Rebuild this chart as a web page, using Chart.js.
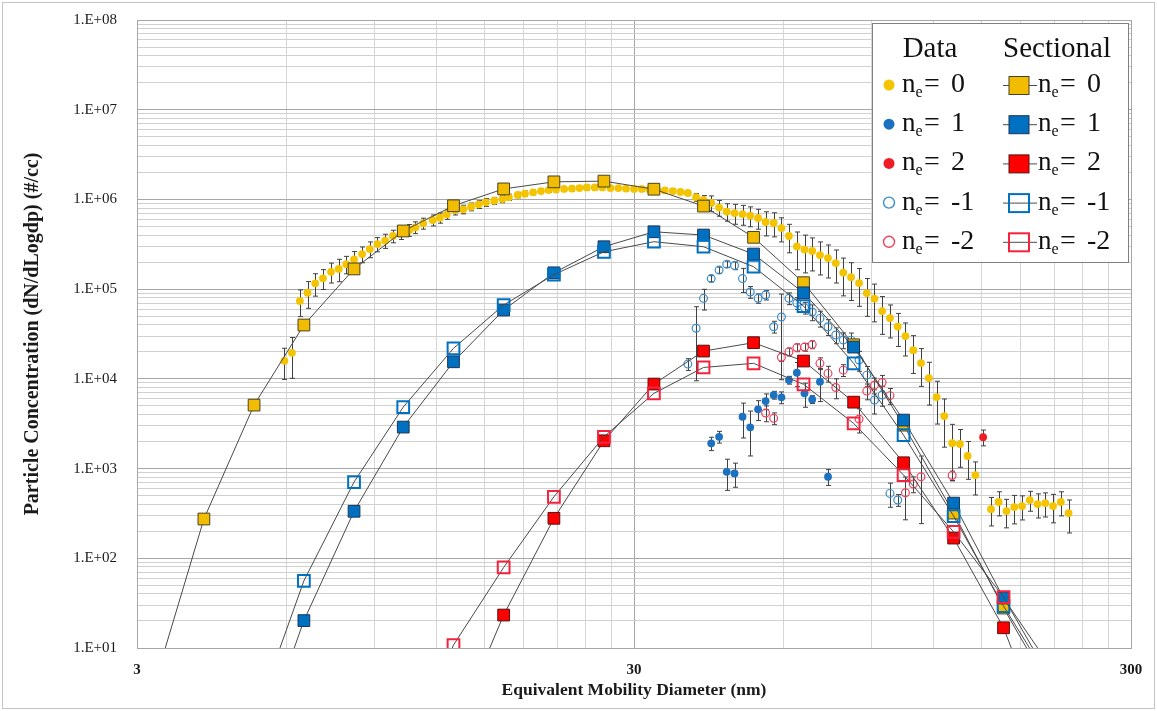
<!DOCTYPE html>
<html>
<head>
<meta charset="utf-8">
<script src="https://cdn.jsdelivr.net/npm/chart.js@4.4.1/dist/chart.umd.min.js"></script>
<style>
  body { margin: 0; background: #fff; }
  #graph { display: block; }
</style>
</head>
<body>
<canvas id="graph" width="1157" height="711"></canvas>
<script>
// SMPS channel midpoints (nm), 64 channels per decade
const channelDiameters = [5.94, 6.15, 6.38, 6.61, 6.85, 7.10, 7.37, 7.64, 7.91, 8.20, 8.51, 8.82, 9.14, 9.47, 9.82,
  10.2, 10.6, 10.9, 11.3, 11.8, 12.2, 12.6, 13.1, 13.6, 14.1, 14.6, 15.1, 15.7, 16.3, 16.8, 17.5, 18.1, 18.8, 19.5,
  20.2, 20.9, 21.7, 22.5, 23.3, 24.1, 25.0, 25.9, 26.9, 27.9, 28.9, 30.0, 31.1, 32.2, 33.4, 34.6, 35.9, 37.2, 38.5,
  40.0, 41.4, 42.9, 44.5, 46.1, 47.8, 49.6, 51.4, 53.3, 55.2, 57.3, 59.4, 61.5, 63.8, 66.1, 68.5, 71.0, 73.7, 76.4,
  79.1, 82.0, 85.1, 88.2, 91.4, 94.7, 98.2, 101.8, 105.5, 109.4, 113.4, 117.6, 121.9, 126.3, 131.0, 135.8, 140.7,
  145.9, 151.2, 156.8, 162.5, 168.5, 174.7, 181.1, 187.7, 194.6, 201.7, 209.1, 216.7, 224.7];

// measured, neutral (ne = 0), one value per channel
const ne0Conc = [15900, 19500, 73700, 91200, 116000, 132000, 156000, 168000, 190000, 215000,
  246000, 280000, 318000, 347000, 391000, 426000, 456000, 489000, 542000, 589000,
  625000, 682000, 762000, 776000, 829000, 881000, 929000, 967000, 1010000, 1060000,
  1120000, 1160000, 1200000, 1240000, 1270000, 1290000, 1310000, 1320000, 1340000, 1360000,
  1360000, 1360000, 1340000, 1340000, 1320000, 1310000, 1310000, 1290000, 1270000, 1260000,
  1240000, 1210000, 1180000, 1060000, 985000, 912000, 812000, 733000, 705000, 687000,
  661000, 621000, 560000, 546000, 480000, 391000, 299000, 276000, 266000, 240000,
  222000, 195000, 153000, 136000, 117000, 90500, 78500, 57000, 47600, 38300,
  30000, 20900, 15000, 10200, 6270, 3850, 1920, 1880, 1380, 847,
  null, 353, 424, 336, 372, 382, 446, 402, 412, 382, 424, 319];
// relative error (fraction of value)
const ne0Err = [0.38, 0.48, 0.33, 0.33, 0.28, 0.25, 0.25, 0.28, 0.22, 0.22,
  0.2, 0.2, 0.18, 0.18, 0.16, 0.16, 0.15, 0.15, 0.14, 0.14,
  0.13, 0.12, 0.12, 0.11, 0.1, 0.1, 0.1, 0.09, 0.09, 0.08,
  0.07, 0.07, 0.06, 0.06, 0.06, 0.06, 0.06, 0.06, 0.06, 0.06,
  0.06, 0.06, 0.06, 0.06, 0.06, 0.06, 0.06, 0.06, 0.06, 0.06,
  0.06, 0.06, 0.06, 0.1, 0.12, 0.2, 0.2, 0.22, 0.25, 0.25,
  0.25, 0.25, 0.3, 0.3, 0.3, 0.35, 0.45, 0.45, 0.4, 0.4,
  0.4, 0.4, 0.45, 0.45, 0.45, 0.45, 0.45, 0.45, 0.4, 0.4,
  0.4, 0.45, 0.45, 0.5, 0.5, 0.55, 0.62, 0.45, 0.45, 0.4,
  null, 0.35, 0.3, 0.35, 0.35, 0.3, 0.25, 0.3, 0.3, 0.35, 0.3, 0.4];

// measured, singly positive (ne = 1)
const ne1Diam = [42.9, 44.5, 46.1, 47.8, 49.6, 51.4, 53.3, 55.2, 57.3, 59.4, 61.5, 63.8, 66.1, 68.5, 71.0, 73.7];
const ne1Conc = [1910, 2260, 921, 884, 3780, 2880, 4570, 5660, 6600, 6220, 9700, 11700, 6890, 5900, 9300, 811];
const ne1Err = [0.17, 0.15, 0.38, 0.3, 0.42, 0.52, 0.25, 0.2, 0.1, 0.15, 0.1, 0.3, 0.3, 0.1, 0.4, 0.2];

// measured, doubly positive (ne = 2)
const ne2Diam = [151.2];
const ne2Conc = [2240];
const ne2Err = [0.2];

// measured, singly negative (ne = -1)
const neM1Diam = [38.5, 40.0, 41.4, 42.9, 44.5, 46.1, 47.8, 49.6, 51.4, 53.3, 55.2, 57.3, 59.4, 61.5,
  63.8, 66.1, 68.5, 71.0, 73.7, 76.4, 79.1, 82.0, 85.1, 88.2, 91.4, 94.7, 98.2, 101.8];
const neM1Conc = [14600, 36600, 79000, 131000, 163000, 190000, 183000, 131000, 93000, 79000, 86000, 38100, 48900, 79000,
  70000, 62000, 55600, 47200, 38100, 30800, 27100, 27000, 16200, 11000, 5800, 6600, 529, 446];
const neM1Err = [0.15, 0.74, 0.26, 0.08, 0.08, 0.08, 0.1, 0.3, 0.15, 0.12, 0.12, 0.15, 0.8, 0.15,
  0.15, 0.15, 0.2, 0.2, 0.2, 0.2, 0.2, 0.2, 0.25, 0.25, 0.3, 0.25, 0.3, 0.15];

// measured, doubly negative (ne = -2)
const neM2Diam = [55.2, 57.3, 59.4, 61.5, 63.8, 66.1, 68.5, 71.0, 73.7, 76.4, 79.1, 85.1, 88.2, 91.4, 94.7, 98.2,
  105.5, 109.4, 113.4, 131.0];
const neM2Conc = [4160, 3630, 17400, 20000, 22300, 22600, 24100, 14900, 11500, 8000, 12500, 3560, 7300, 8500, 9100, 6500,
  537, 672, 811, 836];
const neM2Err = [0.2, 0.15, 0.1, 0.1, 0.1, 0.1, 0.1, 0.15, 0.2, 0.25, 0.15, 0.3, 0.2, 0.2, 0.2, 0.2,
  0.5, 0.2, 0.7, 0.12];

// sectional model, section centres (nm)
const sectionalDiameters = [3.25, 4.09, 5.16, 6.50, 8.20, 10.3, 13.0, 16.4, 20.7, 26.1, 32.9, 41.4, 52.2, 65.8,
  83.0, 104.6, 131.9, 166.2, 209.6];
const sect0 = [3.9, 274, 5100, 39800, 168000, 445000, 850000, 1310000, 1570000, 1600000, 1300000, 843000, 378000, 118000,
  24000, 3050, 319, 27.9, 3.0];
const sect1 = [null, null, 0.54, 20.2, 334, 2900, 15500, 58500, 152000, 297000, 436000, 401000, 246000, 91000,
  22600, 3470, 412, 36, 5.5];
const sect2 = [null, null, null, null, null, null, 1.1, 23.3, 279, 2040, 8750, 20400, 25300, 15800,
  5500, 1160, 168, 16.8, 0.6];
const sectM1 = [null, null, 1.55, 56, 708, 4850, 21900, 66500, 145000, 261000, 338000, 297000, 178000, 64800,
  14900, 2360, 295, 29.3, 3.7];
const sectM2 = [null, null, null, null, null, 0.43, 10.8, 79, 485, 2260, 6890, 13400, 14900, 8700,
  3190, 847, 197, 36.9, 3.9];

// axes
const xMajorTicks = [3, 30, 300];
const xTickLabels = ['3', '30', '300'];
const yMajorTicks = [1e1, 1e2, 1e3, 1e4, 1e5, 1e6, 1e7, 1e8];
const yTickLabels = ['1.E+01', '1.E+02', '1.E+03', '1.E+04', '1.E+05', '1.E+06', '1.E+07', '1.E+08'];
const legendKeys = ['0', '1', '2', '-1', '-2'];

const serif = "'Liberation Serif', 'Times New Roman', serif";
const YELLOW = '#F5C400';
const BLUE = '#0070C0';
const RED = '#FF0000';
const PINK = '#F0405E';

function toPoints(xs, ys, errs) {
  const pts = [];
  xs.forEach((x, i) => {
    if (ys[i] == null) return;
    pts.push({ x: x, y: ys[i], err: errs ? errs[i] : null });
  });
  return pts;
}

// Excel style log gridlines: k * base for k = 1..9
const xGrid = [];
xMajorTicks.slice(0, -1).forEach(b => { for (let k = 1; k < 10; k++) xGrid.push(b * k); });
xGrid.push(xMajorTicks[xMajorTicks.length - 1]);
const yGrid = [];
yMajorTicks.slice(0, -1).forEach(b => { for (let k = 1; k < 10; k++) yGrid.push(b * k); });
yGrid.push(yMajorTicks[yMajorTicks.length - 1]);

function dataSet(label, xs, ys, errs, fill, stroke, order) {
  return {
    label: label,
    data: toPoints(xs, ys, errs),
    showLine: false,
    pointStyle: 'circle',
    pointRadius: 3.9,
    pointBackgroundColor: fill,
    pointBorderColor: stroke || fill,
    pointBorderWidth: stroke ? 1.2 : 0,
    order: order
  };
}

function sectSet(label, ys, fill, stroke, bw, order) {
  return {
    label: label,
    data: toPoints(sectionalDiameters, ys),
    showLine: true,
    borderColor: '#4a4a4a',
    borderWidth: 1,
    pointStyle: 'rect',
    pointRadius: 8.3,
    pointBackgroundColor: fill,
    pointBorderColor: stroke,
    pointBorderWidth: bw,
    order: order
  };
}

const dataSets = [
  dataSet('Data ne=0', channelDiameters, ne0Conc, ne0Err, YELLOW, null, 10),
  dataSet('Data ne=1', ne1Diam, ne1Conc, ne1Err, '#1C72C0', null, 9),
  dataSet('Data ne=2', ne2Diam, ne2Conc, ne2Err, '#EE1C25', null, 8),
  dataSet('Data ne=-1', neM1Diam, neM1Conc, neM1Err, 'rgba(0,0,0,0)', '#3A8CCB', 7),
  dataSet('Data ne=-2', neM2Diam, neM2Conc, neM2Err, 'rgba(0,0,0,0)', PINK, 6)
];
const sectSets = [
  sectSet('Sectional ne=0', sect0, '#F2BC00', '#4a4022', 1, 5),
  sectSet('Sectional ne=1', sect1, BLUE, '#1d3557', 1, 4),
  sectSet('Sectional ne=2', sect2, RED, '#5a1010', 1, 3),
  sectSet('Sectional ne=-1', sectM1, 'rgba(0,0,0,0)', BLUE, 2, 2),
  sectSet('Sectional ne=-2', sectM2, 'rgba(0,0,0,0)', '#F5223F', 2, 1)
];

const pageFrame = {
  id: 'pageFrame',
  beforeDraw(chart) {
    const ctx = chart.ctx;
    ctx.save();
    ctx.fillStyle = '#fff';
    ctx.fillRect(0, 0, chart.width, chart.height);
    ctx.strokeStyle = '#c4c4c4';
    ctx.lineWidth = 1;
    ctx.strokeRect(2.5, 2.5, chart.width - 5, chart.height - 5);
    ctx.restore();
  }
};

const errorBars = {
  id: 'errorBars',
  beforeDatasetsDraw(chart) {
    const { ctx, chartArea, scales } = chart;
    ctx.save();
    ctx.beginPath();
    ctx.rect(chartArea.left, chartArea.top, chartArea.width, chartArea.height);
    ctx.clip();
    ctx.strokeStyle = '#404040';
    ctx.lineWidth = 1;
    chart.data.datasets.forEach(ds => {
      ds.data.forEach(p => {
        if (!p.err) return;
        const px = Math.round(scales.x.getPixelForValue(p.x)) + 0.5;
        const top = scales.y.getPixelForValue(p.y * (1 + p.err));
        const bot = scales.y.getPixelForValue(p.y * (1 - p.err));
        ctx.beginPath();
        ctx.moveTo(px, top); ctx.lineTo(px, bot);
        ctx.moveTo(px - 2.5, top); ctx.lineTo(px + 2.5, top);
        ctx.moveTo(px - 2.5, bot); ctx.lineTo(px + 2.5, bot);
        ctx.stroke();
      });
    });
    ctx.restore();
  }
};

// "n" with subscript "e", then "= key"
function drawNe(ctx, x, baseline, key) {
  ctx.textAlign = 'left';
  ctx.font = '27px ' + serif;
  ctx.fillText('n', x, baseline);
  ctx.font = '16px ' + serif;
  ctx.fillText('e', x + 13.5, baseline + 5);
  ctx.font = '28px ' + serif;
  ctx.fillText('=', x + 22, baseline);
  ctx.fillText(key, x + 49, baseline);
}

// two column legend: Data | Sectional
const pairedLegend = {
  id: 'pairedLegend',
  afterDraw(chart) {
    const ctx = chart.ctx;
    const box = { left: 872.5, top: 23.5, width: 256, height: 239 };
    ctx.save();
    ctx.fillStyle = '#fff';
    ctx.fillRect(box.left, box.top, box.width, box.height);
    ctx.strokeStyle = '#808080';
    ctx.lineWidth = 1;
    ctx.strokeRect(box.left, box.top, box.width, box.height);

    ctx.fillStyle = '#111';
    ctx.textBaseline = 'alphabetic';
    ctx.textAlign = 'center';
    ctx.font = '29px ' + serif;
    ctx.fillText('Data', 930, 57);
    ctx.fillText('Sectional', 1057, 57);

    legendKeys.forEach((key, i) => {
      const cy = 85 + i * 39.2;
      const d = dataSets[i];
      const s = sectSets[i];
      // data marker
      ctx.beginPath();
      ctx.arc(889, cy, 5.5, 0, Math.PI * 2);
      ctx.fillStyle = d.pointBackgroundColor;
      ctx.fill();
      if (d.pointBorderWidth) {
        ctx.lineWidth = 1.4;
        ctx.strokeStyle = d.pointBorderColor;
        ctx.stroke();
      }
      // sectional marker with line stub
      ctx.beginPath();
      ctx.moveTo(1003, cy + 0.5);
      ctx.lineTo(1037, cy + 0.5);
      ctx.lineWidth = 1;
      ctx.strokeStyle = '#4a4a4a';
      ctx.stroke();
      ctx.fillStyle = s.pointBackgroundColor;
      ctx.fillRect(1009, cy - 8.5, 20, 18);
      ctx.lineWidth = s.pointBorderWidth;
      ctx.strokeStyle = s.pointBorderColor;
      ctx.strokeRect(1009, cy - 8.5, 20, 18);

      ctx.fillStyle = '#111';
      drawNe(ctx, 902, cy + 7, key);
      drawNe(ctx, 1038, cy + 7, key);
    });
    ctx.restore();
  }
};

function gridColor(majors, major, minor) {
  return ctx => (ctx.tick && majors.includes(ctx.tick.value)) ? major : minor;
}

new Chart(document.getElementById('graph'), {
  type: 'scatter',
  data: { datasets: dataSets.concat(sectSets) },
  options: {
    responsive: false,
    animation: false,
    devicePixelRatio: 1,
    layout: { padding: { left: 0, right: 26, top: 20, bottom: 0 } },
    plugins: { legend: { display: false }, tooltip: { enabled: false } },
    scales: {
      x: {
        type: 'logarithmic',
        min: 3,
        max: 300,
        afterBuildTicks: scale => { scale.ticks = xGrid.map(v => ({ value: v })); },
        afterFit: scale => { scale.height = 63; },
        grid: {
          color: gridColor(xMajorTicks, '#a6a6a6', '#d6d6d6'),
          drawTicks: false
        },
        border: { color: '#a6a6a6' },
        ticks: {
          autoSkip: false,
          maxRotation: 0,
          padding: 13,
          color: '#1a1a1a',
          font: { family: serif, size: 15, weight: 'bold' },
          callback: v => {
            const i = xMajorTicks.indexOf(v);
            return i >= 0 ? xTickLabels[i] : '';
          }
        },
        title: {
          display: true,
          text: 'Equivalent Mobility Diameter (nm)',
          color: '#1a1a1a',
          font: { family: serif, size: 17.5, weight: 'bold' },
          padding: { top: 0, bottom: 10.5 }
        }
      },
      y: {
        type: 'logarithmic',
        min: 10,
        max: 1e8,
        afterBuildTicks: scale => { scale.ticks = yGrid.map(v => ({ value: v })); },
        afterFit: scale => {
          scale.width = 137;
          // the label gap would otherwise push the plot area down
          scale.paddingTop = 0;
          scale.paddingBottom = 0;
        },
        grid: {
          color: gridColor(yMajorTicks, '#a6a6a6', '#d0d0d0'),
          drawTicks: false
        },
        border: { color: '#a6a6a6' },
        ticks: {
          autoSkip: false,
          padding: 20,
          color: '#1a1a1a',
          font: { family: serif, size: 15 },
          callback: v => {
            const i = yMajorTicks.indexOf(v);
            return i >= 0 ? yTickLabels[i] : '';
          }
        },
        title: {
          display: true,
          text: 'Particle Concentration (dN/dLogdp) (#/cc)',
          color: '#1a1a1a',
          font: { family: serif, size: 20, weight: 'bold' },
          padding: { top: 21, bottom: 0 }
        }
      }
    }
  },
  plugins: [pageFrame, errorBars, pairedLegend]
});
</script>
</body>
</html>
